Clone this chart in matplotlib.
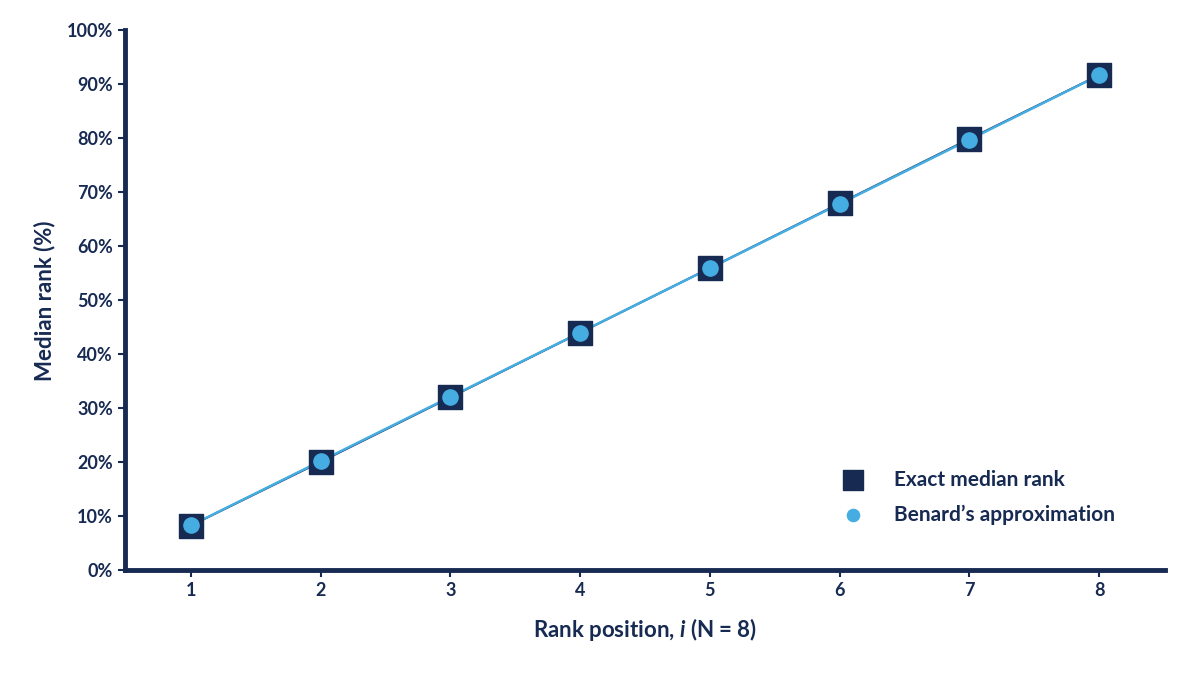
import matplotlib.pyplot as plt
from matplotlib.ticker import FuncFormatter

plt.rcParams['font.family'] = ['Lato', 'DejaVu Sans']
plt.rcParams['font.weight'] = 'bold'
plt.rcParams['mathtext.fontset'] = 'custom'
plt.rcParams['mathtext.rm'] = 'Lato:bold'
plt.rcParams['mathtext.it'] = 'Lato:italic'

navy = '#172a52'
blue = '#45ade2'

rank = [1, 2, 3, 4, 5, 6, 7, 8]
exact = [8.30, 20.11, 32.05, 44.02, 55.98, 67.95, 79.89, 91.70]
benard = [8.33, 20.24, 32.14, 44.05, 55.95, 67.86, 79.76, 91.67]

fig = plt.figure(figsize=(12, 6.75), dpi=100)
ax = fig.add_axes([0.104, 0.155, 0.867, 0.80])

ax.plot(rank, exact, color=navy, lw=1.5, zorder=2)
ax.plot(rank, benard, color=blue, lw=1.8, zorder=3)
ax.scatter(rank, exact, marker='s', s=300, color=navy, zorder=4, label='Exact median rank')
ax.scatter(rank, benard, marker='o', s=120, color=blue, zorder=5, label='Benard\u2019s approximation')

ax.set_xlim(0.49, 8.51)
ax.set_ylim(0, 100)
ax.set_xticks(rank)
ax.set_yticks(range(0, 101, 10))
ax.yaxis.set_major_formatter(FuncFormatter(lambda v, p: f'{v:.0f}%'))

for s in ['top', 'right']:
    ax.spines[s].set_visible(False)
for s in ['left', 'bottom']:
    ax.spines[s].set_color(navy)
    ax.spines[s].set_linewidth(3.5)
ax.tick_params(colors=navy, labelsize=13, width=1.5, length=5)
for lab in ax.get_xticklabels() + ax.get_yticklabels():
    lab.set_fontweight('bold')

ax.set_xlabel('Rank position, $\\mathit{i}$ (N = 8)', color=navy, fontsize=16, fontweight='bold', labelpad=12)
ax.set_ylabel('Median rank (%)', color=navy, fontsize=16, fontweight='bold', labelpad=8)

leg = ax.legend(loc='lower right', bbox_to_anchor=(0.97, 0.05), frameon=False,
                fontsize=15, labelspacing=0.7, handletextpad=1.0, markerscale=0.8)
for t in leg.get_texts():
    t.set_color(navy)
    t.set_fontweight('bold')

fig.savefig('out.png', dpi=100)
